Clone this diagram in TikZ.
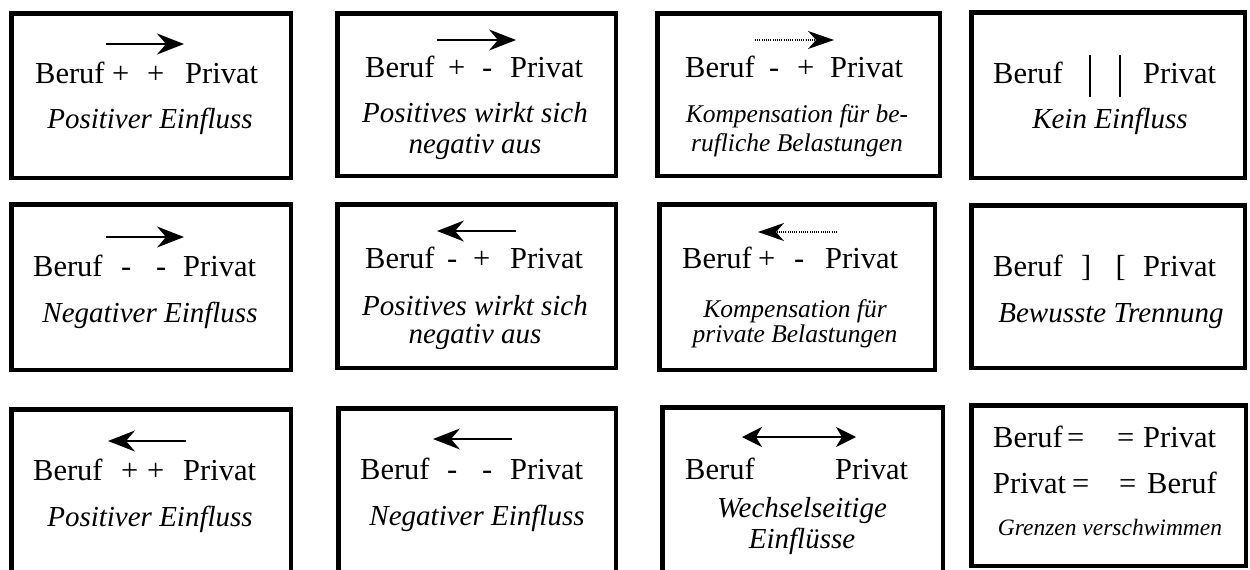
\documentclass[tikz,border=0pt]{standalone}
\usepackage{fontspec}
\setmainfont{Liberation Serif}
\usetikzlibrary{arrows.meta}

\begin{document}
\begin{tikzpicture}[x=1pt,y=-1pt,
  box/.style={draw,line width=4.5pt,inner sep=0pt},
  word/.style={anchor=base west,inner sep=0pt,font=\fontsize{30.5}{34}\selectfont},
  note/.style={anchor=base,inner sep=0pt,font=\fontsize{29}{32}\selectfont\itshape},
  smallnote/.style={note,font=\fontsize{25.5}{28}\selectfont\itshape},
  tinynote/.style={note,font=\fontsize{23.5}{26}\selectfont\itshape},
  arr/.style={-{Stealth[length=27pt,width=21pt,inset=9pt]},line width=2pt},
  dotarr/.style={-{Stealth[length=26pt,width=18pt,inset=8pt]},line width=1.1pt,dash pattern=on 1pt off 1.2pt},
  botharr/.style={{Stealth[length=20pt,width=20pt,inset=6pt]}-{Stealth[length=20pt,width=20pt,inset=6pt]},line width=1.6pt}]
\useasboundingbox (0,0) rectangle (1250,570);
\clip (0,0) rectangle (1250,570);

\node[box,minimum width=279.5,minimum height=164.5] (b11) at (151,95.5) {};
\node[word] (be11) at (35,83) {Beruf};
\node[word] (s11a) at (112,83) {+};
\node[word] (s11b) at (147,83) {+};
\node[word] (pr11) at (185,83) {Privat};
\node[note] (n11) at (150,128) {Positiver Einfluss};
\coordinate (a11s) at (106,44); \coordinate (a11e) at (184,44);
\draw[arr] (a11s)--(a11e);

\node[box,minimum width=278.5,minimum height=162.5] (b12) at (476.5,94.5) {};
\node[word] (be12) at (365,77) {Beruf};
\node[word] (s12a) at (448,77) {+};
\node[word] (s12b) at (482,77) {-};
\node[word] (pr12) at (510,77) {Privat};
\node[note] (n12a) at (475,122) {Positives wirkt sich};
\node[note] (n12b) at (475,153) {negativ aus};
\coordinate (a12s) at (437,40); \coordinate (a12e) at (516,40);
\draw[arr] (a12s)--(a12e);

\node[box,minimum width=282.5,minimum height=162.5] (b13) at (798.5,94.5) {};
\node[word] (be13) at (685,77) {Beruf};
\node[word] (s13a) at (769,77) {-};
\node[word] (s13b) at (797,77) {+};
\node[word] (pr13) at (830,77) {Privat};
\node[smallnote] (n13a) at (797,122) {Kompensation für be-};
\node[smallnote] (n13b) at (797,151) {rufliche Belastungen};
\coordinate (a13s) at (755,40); \coordinate (a13e) at (834,40);
\draw[dotarr] (a13s)--(a13e);

\node[box,minimum width=273.5,minimum height=165.5] (b14) at (1108,95) {};
\node[word] (be14) at (993,83) {Beruf};
\node[word] (s14a) at (1089,97) {\rule{1.6pt}{42pt}};
\node[word] (s14b) at (1119,97) {\rule{1.6pt}{42pt}};
\node[word] (pr14) at (1143,83) {Privat};
\node[note] (n14) at (1110,128) {Kein Einfluss};

\node[box,minimum width=279.5,minimum height=165.5] (b21) at (151,287) {};
\node[word] (be21) at (33,276) {Beruf};
\node[word] (s21a) at (121,276) {-};
\node[word] (s21b) at (156,276) {-};
\node[word] (pr21) at (183,276) {Privat};
\node[note] (n21) at (150,322) {Negativer Einfluss};
\coordinate (a21s) at (106,237); \coordinate (a21e) at (184,237);
\draw[arr] (a21s)--(a21e);

\node[box,minimum width=278.5,minimum height=163.5] (b22) at (476.5,286) {};
\node[word] (be22) at (365,268) {Beruf};
\node[word] (s22a) at (447,268) {-};
\node[word] (s22b) at (473,268) {+};
\node[word] (pr22) at (510,268) {Privat};
\node[note] (n22a) at (475,315) {Positives wirkt sich};
\node[note] (n22b) at (475,343) {negativ aus};
\coordinate (a22s) at (516,231); \coordinate (a22e) at (437,231);
\draw[arr] (a22s)--(a22e);

\node[box,minimum width=275.5,minimum height=165.5] (b23) at (797,287) {};
\node[word] (be23) at (682,268) {Beruf};
\node[word] (s23a) at (758,268) {+};
\node[word] (s23b) at (794,268) {-};
\node[word] (pr23) at (825,268) {Privat};
\node[smallnote] (n23a) at (795,317) {Kompensation für};
\node[smallnote] (n23b) at (795,342) {private Belastungen};
\coordinate (a23s) at (837,232); \coordinate (a23e) at (758,232);
\draw[dotarr] (a23s)--(a23e);

\node[box,minimum width=273.5,minimum height=162.5] (b24) at (1108,286.5) {};
\node[word] (be24) at (993,276) {Beruf};
\node[word] (s24a) at (1081,276) {]};
\node[word] (s24b) at (1115.5,276) {[};
\node[word] (pr24) at (1143,276) {Privat};
\node[note] (n24) at (1111,322) {Bewusste Trennung};

\node[box,minimum width=279.5,minimum height=198.5] (b31) at (151,508.5) {};
\node[word] (be31) at (33,480) {Beruf};
\node[word] (s31a) at (121,480) {+};
\node[word] (s31b) at (147,480) {+};
\node[word] (pr31) at (183,480) {Privat};
\node[note] (n31) at (150,526) {Positiver Einfluss};
\coordinate (a31s) at (186,441); \coordinate (a31e) at (108,441);
\draw[arr] (a31s)--(a31e);

\node[box,minimum width=277.5,minimum height=199.5] (b32) at (477,508) {};
\node[word] (be32) at (360,479) {Beruf};
\node[word] (s32a) at (447,479) {-};
\node[word] (s32b) at (482,479) {-};
\node[word] (pr32) at (510,479) {Privat};
\node[note] (n32) at (477,525) {Negativer Einfluss};
\coordinate (a32s) at (512,439); \coordinate (a32e) at (433,439);
\draw[arr] (a32s)--(a32e);

\node[box,minimum width=280.5,minimum height=200.5] (b33) at (802.5,507.5) {};
\node[word] (be33) at (685,479) {Beruf};
\node[word] (pr33) at (835,479) {Privat};
\node[note] (n33a) at (802,517) {Wechselseitige};
\node[note] (n33b) at (802,548) {Einflüsse};
\coordinate (a33s) at (742,437); \coordinate (a33e) at (856,437);
\draw[botharr] (a33s)--(a33e);

\node[box,minimum width=274.5,minimum height=160.5] (b34) at (1108.5,485.5) {};
\node[word] (be34a) at (993,447) {Beruf};
\node[word] (s34a) at (1067,447) {=};
\node[word] (s34b) at (1117,447) {=};
\node[word] (pr34a) at (1143,447) {Privat};
\node[word] (pr34b) at (993,493) {Privat};
\node[word] (s34c) at (1072,493) {=};
\node[word] (s34d) at (1119,493) {=};
\node[word] (be34b) at (1147,493) {Beruf};
\node[tinynote] (n34) at (1110,535) {Grenzen verschwimmen};
\end{tikzpicture}
\end{document}
